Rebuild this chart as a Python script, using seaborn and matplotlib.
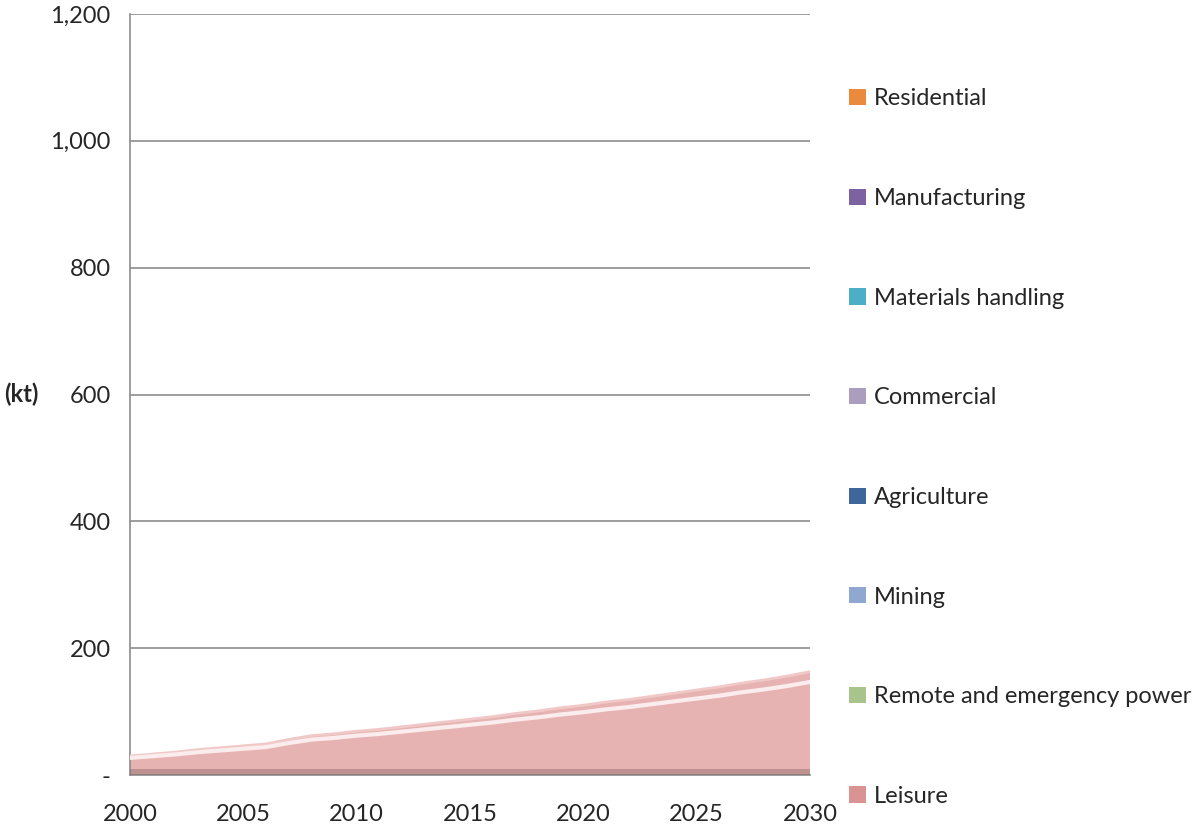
import matplotlib
matplotlib.use("Agg")
import matplotlib.pyplot as plt
import matplotlib.patches as mpatches
import seaborn as sns
import numpy as np
import pandas as pd

years = list(range(2000, 2031))
leisure = [30, 33, 36, 40, 43, 46, 49, 56, 62, 65, 69, 72, 76, 80, 84, 88,
           92, 97, 101, 106, 110, 115, 119, 124, 129, 134, 139, 145, 150, 156, 163]
zeros = [0] * len(years)
remote = zeros
mining = zeros
agriculture = zeros
commercial = zeros
materials = zeros
manufacturing = zeros
residential = zeros

series_names = ["Leisure", "Remote and emergency power", "Mining", "Agriculture",
                "Commercial", "Materials handling", "Manufacturing", "Residential"]
series_vals = [leisure, remote, mining, agriculture, commercial, materials,
               manufacturing, residential]
colors = ["#E6B3B2", "#A9C38C", "#90A7CF", "#3F6699", "#AA9DBE", "#4BAFC8",
          "#7C62A0", "#E98A3D"]
legend_colors = ["#D99392", "#A9C38C", "#90A7CF", "#3F6699", "#AA9DBE", "#4BAFC8",
                 "#7C62A0", "#E98A3D"]

yticks = [0, 200, 400, 600, 800, 1000, 1200]
ytick_labels = ["-", "200", "400", "600", "800", "1,000", "1,200"]
xticks = [2000, 2005, 2010, 2015, 2020, 2025, 2030]

sns.set_style("white")
plt.rcParams["font.family"] = ["Lato", "DejaVu Sans"]
FS = 17

df = pd.DataFrame({"year": years, **dict(zip(series_names, series_vals))})

fig = plt.figure(figsize=(12.03, 8.32), dpi=100)
ax = fig.add_axes([130 / 1203, 57 / 832, 680 / 1203, 761 / 832])

ax.stackplot(df["year"], *[df[n] for n in series_names], colors=colors,
             edgecolor="none", zorder=2)
# bevel-like highlight
sns.lineplot(x=df["year"], y=df["Leisure"], ax=ax, color="#F0C8C7", lw=2, zorder=3)
sns.lineplot(x=df["year"], y=df["Leisure"] * 0.9, ax=ax, color="#FBEDED", lw=3,
             zorder=3)
ax.fill_between(df["year"], 0, np.minimum(df["Leisure"], 9), color="#7E5E5E",
                alpha=0.4, zorder=3, lw=0)

ax.set_xlim(2000, 2030)
ax.set_ylim(0, 1200)
ax.set_yticks(yticks)
ax.set_yticklabels(ytick_labels)
ax.set_xticks(xticks)
ax.set_xticks(years, minor=True)
ax.grid(axis="y", color="#8C8C8C", lw=1.2, zorder=1)
ax.grid(axis="x", visible=False)
for s in ["top", "right"]:
    ax.spines[s].set_visible(False)
for s in ["left", "bottom"]:
    ax.spines[s].set_color("#8C8C8C")
    ax.spines[s].set_linewidth(1.2)
ax.tick_params(axis="both", which="both", direction="out", color="#8C8C8C",
               labelsize=FS, width=1.2)
ax.tick_params(axis="y", length=7, pad=7)
ax.tick_params(axis="x", which="major", length=7, pad=14)
ax.tick_params(axis="x", which="minor", length=7)
ax.set_xlabel("")
ax.set_ylabel("(kt)", fontsize=FS, fontweight="bold", rotation=0,
              va="center", ha="center")
ax.yaxis.set_label_coords(-(130 - 21) / 680, 0.5)

handles = [mpatches.Patch(facecolor=c, edgecolor="none", label=n)
           for n, c in zip(series_names, legend_colors)][::-1]
fig.legend(handles=handles, loc="upper left", bbox_to_anchor=(840 / 1203, 1 - 79 / 832),
           frameon=False, fontsize=FS, handlelength=0.68, handleheight=0.68,
           handletextpad=0.35, labelspacing=3.33, borderaxespad=0)

fig.savefig("out.png", dpi=100)
